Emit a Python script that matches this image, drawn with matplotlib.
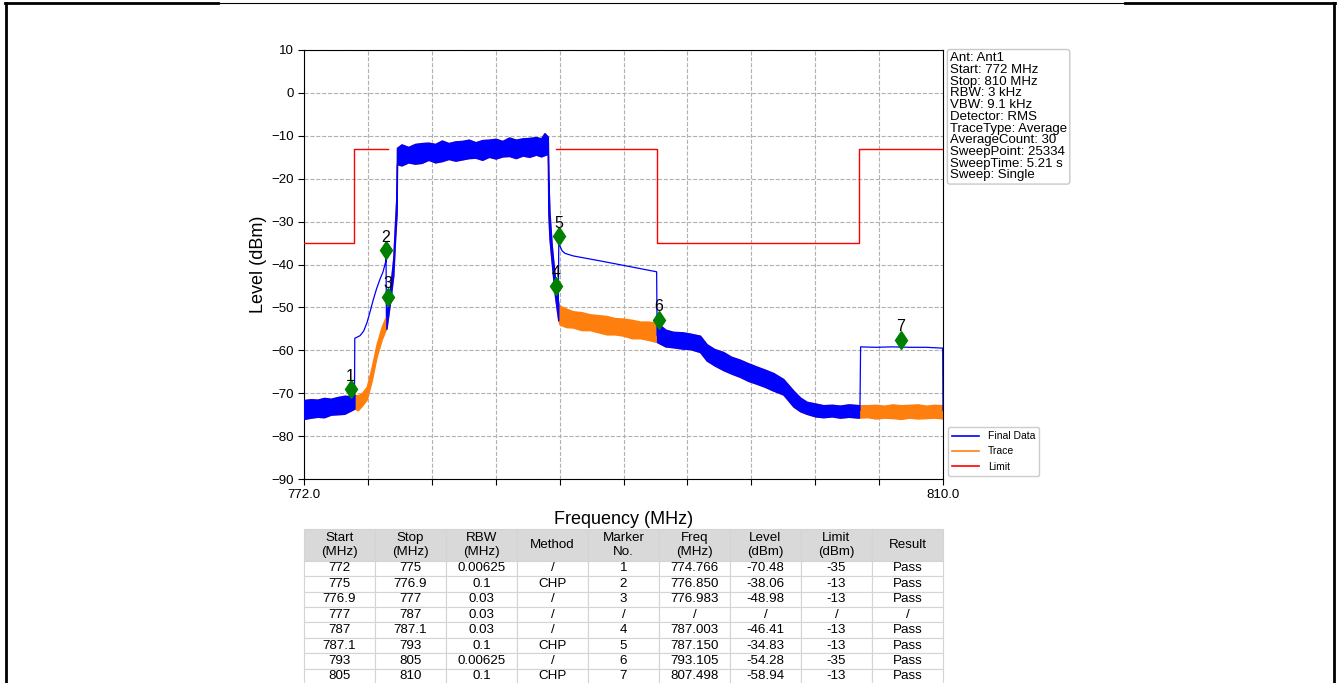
import numpy as np
import matplotlib
matplotlib.use("Agg")
import matplotlib.pyplot as plt
from matplotlib.lines import Line2D

plt.rcParams["font.family"] = ["Liberation Sans", "DejaVu Sans"]

# ---- measured trace envelope (MHz, dBm), one row per region ----
trace_freq = [772.0, 772.4, 772.8, 773.2, 773.6, 774.0, 774.4, 774.8, 775.0, 775.2,
              775.43, 775.73, 776.03, 776.32, 776.62, 776.88,
              776.9, 777.11, 777.31, 777.41, 777.51,
              777.53, 777.8, 778.2, 778.6, 779.0, 779.4, 779.8, 780.2, 780.6, 781.0, 781.4, 781.8,
              782.2, 782.6, 783.0, 783.4, 783.8, 784.2, 784.6, 785.0, 785.4, 785.8, 786.1, 786.3, 786.5,
              786.53, 786.6, 786.73, 786.93,
              787.12, 787.2, 787.6, 788.0, 788.5, 789.0, 789.5, 790.0, 790.5, 791.0, 791.5, 792.0, 792.5, 793.0,
              793.5, 793.96, 794.5, 794.95, 795.55, 795.95, 796.4, 796.93, 797.4, 797.93, 798.4, 798.92,
              799.4, 799.91, 800.5, 801.1, 801.5, 801.89, 802.4, 802.88, 803.4, 803.87, 804.4, 805.0,
              805.5, 806.0, 806.5, 807.0, 807.5, 808.0, 808.5, 809.0, 809.5, 810.0]
trace_hi = [-71.6, -71.4, -71.5, -71.1, -71.3, -70.9, -70.6, -70.7, -70.3, -70.5,
            -70.0, -68.5, -63.8, -58.5, -54.5, -52.0,
            -51.5, -46.0, -38.5, -30.5, -23.0,
            -12.8, -12.0, -12.6, -11.9, -11.7, -11.6, -11.9, -11.1, -11.7, -11.3, -11.2, -10.9,
            -11.5, -11.0, -10.9, -10.7, -11.2, -10.4, -10.9, -10.6, -10.5, -10.3, -10.6, -9.4, -10.2,
            -20.0, -28.0, -35.5, -43.5,
            -49.0, -49.6, -50.3, -50.9, -51.1, -51.6, -51.8, -52.0, -52.5, -52.6, -52.9, -53.3, -53.3, -53.6,
            -55.2, -55.7, -55.8, -56.1, -56.6, -58.6, -59.7, -60.4, -61.5, -62.2, -63.0, -63.8,
            -64.5, -65.3, -66.7, -69.4, -71.0, -72.0, -72.4, -72.8, -72.7, -72.9, -72.6, -72.8,
            -72.8, -72.7, -72.9, -72.6, -72.8, -72.7, -72.6, -72.9, -72.7, -72.8]
trace_lo = [-76.0, -75.7, -75.5, -75.6, -75.0, -74.9, -74.8, -74.0, -73.6, -74.0,
            -73.0, -71.5, -67.0, -61.5, -57.5, -55.0,
            -55.0, -49.0, -42.5, -34.5, -28.0,
            -16.6, -16.9, -16.2, -16.5, -16.3, -15.6, -16.2, -15.9, -15.4, -15.8, -15.5, -15.2,
            -15.1, -15.6, -14.9, -15.3, -14.8, -14.7, -15.2, -14.6, -14.9, -14.4, -14.8, -14.5, -14.2,
            -28.0, -34.0, -39.5, -47.5,
            -53.0, -54.0, -54.6, -54.7, -55.3, -55.3, -55.8, -56.3, -56.3, -56.6, -57.2, -57.2, -57.6, -58.1,
            -59.1, -59.3, -59.6, -59.7, -60.4, -62.4, -63.5, -64.6, -65.4, -66.2, -67.1, -67.8,
            -68.5, -69.4, -70.3, -73.1, -74.2, -74.8, -75.4, -75.6, -75.4, -75.7, -75.5, -75.7,
            -75.6, -75.9, -75.7, -75.8, -76.0, -75.7, -75.9, -75.8, -75.7, -75.9]

# ---- final data in the CHP segments (smooth channel power curve) ----
chp1_freq = [775.0, 775.02, 775.33, 775.55, 775.75, 775.93, 776.12, 776.32, 776.52, 776.7, 776.85, 776.88, 776.9]
chp1_level = [-72.0, -57.2, -56.6, -55.5, -53.5, -51.0, -48.2, -45.6, -43.4, -41.7, -39.5, -38.5, -52.0]
chp2_freq = [787.12, 787.15, 787.35, 787.52, 788.01, 789.8, 791.39, 792.97, 793.0]
chp2_level = [-51.0, -35.1, -36.8, -37.4, -38.0, -39.3, -40.5, -41.7, -56.5]
chp3_freq = [805.06, 805.1, 806.0, 807.0, 808.0, 809.0, 809.98, 810.0]
chp3_level = [-74.0, -59.2, -59.3, -59.2, -59.3, -59.3, -59.5, -74.0]

# segments where final data equals the trace
plain_segments = [(772.0, 775.0), (776.9, 787.12), (793.0, 805.0)]

# ---- limit line ----
limit_freq = [772.0, 775.0, 775.0, 777.0, np.nan, 787.0, 793.0, 793.0, 805.0, 805.0, 810.0]
limit_level = [-35, -35, -13, -13, np.nan, -13, -13, -35, -35, -13, -13]

# ---- result table ----
seg_start = ["772", "775", "776.9", "777", "787", "787.1", "793", "805"]
seg_stop = ["775", "776.9", "777", "787", "787.1", "793", "805", "810"]
seg_rbw = ["0.00625", "0.1", "0.03", "0.03", "0.03", "0.1", "0.00625", "0.1"]
seg_method = ["/", "CHP", "/", "/", "/", "CHP", "/", "CHP"]
marker_no = ["1", "2", "3", "/", "4", "5", "6", "7"]
marker_freq = ["774.766", "776.850", "776.983", "/", "787.003", "787.150", "793.105", "807.498"]
marker_level = ["-70.48", "-38.06", "-48.98", "/", "-46.41", "-34.83", "-54.28", "-58.94"]
seg_limit = ["-35", "-13", "-13", "/", "-13", "-13", "-35", "-13"]
seg_result = ["Pass", "Pass", "Pass", "/", "Pass", "Pass", "Pass", "Pass"]
col_labels = ["Start\n(MHz)", "Stop\n(MHz)", "RBW\n(MHz)", "Method", "Marker\nNo.",
              "Freq\n(MHz)", "Level\n(dBm)", "Limit\n(dBm)", "Result"]

info_lines = ["Ant: Ant1", "Start: 772 MHz", "Stop: 810 MHz", "RBW: 3 kHz", "VBW: 9.1 kHz",
              "Detector: RMS", "TraceType: Average", "AverageCount: 30", "SweepPoint: 25334",
              "SweepTime: 5.21 s", "Sweep: Single"]

MARKER_LIFT = 1.4  # diamonds sit slightly above the reported level

fig = plt.figure(figsize=(13.38, 6.83), dpi=100)
ax = fig.add_axes([304 / 1338, 1 - 479 / 683, 639 / 1338, 429 / 683])

tf = np.array(trace_freq)
th = np.array(trace_hi)
tl = np.array(trace_lo)

# orange raw trace under everything
ax.fill_between(tf, tl, th, color="#ff7f0e", lw=1.0, zorder=2)

# blue final data where it equals the trace
for a, b in plain_segments:
    m = (tf >= a - 1e-9) & (tf <= b + 1e-9)
    ax.fill_between(tf[m], tl[m], th[m], color="blue", lw=1.0, zorder=3)
for f, l in [(chp1_freq, chp1_level), (chp2_freq, chp2_level), (chp3_freq, chp3_level)]:
    ax.plot(f, l, color="blue", lw=0.9, zorder=3)

ax.plot(limit_freq, limit_level, color="red", lw=1.0, zorder=4)

# markers
for no, fr, lv in zip(marker_no, marker_freq, marker_level):
    if no == "/":
        continue
    x, y = float(fr), float(lv) + MARKER_LIFT
    ax.plot(x, y, marker="d", color="green", markersize=9.5, zorder=5)
    ax.annotate(no, (x, y), xytext=(0, 4), textcoords="offset points",
                ha="center", va="bottom", fontsize=11.5, zorder=6)

ax.set_xlim(772, 810)
ax.set_ylim(-90, 10)
xt = np.linspace(772, 810, 11)
ax.set_xticks(xt)
ax.set_xticklabels(["772.0"] + [""] * 9 + ["810.0"])
ax.set_yticks(np.arange(-90, 11, 10))
ax.tick_params(labelsize=9.5, length=4)
ax.grid(True, color="#b0b0b0", linestyle="--", linewidth=0.8)
ax.set_axisbelow(True)
ax.set_xlabel("Frequency (MHz)", fontsize=13, labelpad=7)
ax.set_ylabel("Level (dBm)", fontsize=13, labelpad=3)

handles = [Line2D([], [], color="blue", lw=1.2, label="Final Data"),
           Line2D([], [], color="#ff7f0e", lw=1.2, label="Trace"),
           Line2D([], [], color="red", lw=1.2, label="Limit")]
ax.legend(handles=handles, loc="lower left", bbox_to_anchor=(1.003, 0.0),
          fontsize=7.5, handlelength=2.6, borderaxespad=0.3, framealpha=1)

ax.text(1.011, 0.995, "\n".join(info_lines), transform=ax.transAxes, va="top", ha="left",
        fontsize=9.5, linespacing=0.97,
        bbox=dict(boxstyle="round,pad=0.2", fc="white", ec="#c8c8c8"))

cells = list(zip(seg_start, seg_stop, seg_rbw, seg_method, marker_no,
                 marker_freq, marker_level, seg_limit, seg_result))
tbl = ax.table(cellText=cells, colLabels=col_labels, cellLoc="center",
               bbox=[0.0, -0.478, 1.0, 0.361])
tbl.auto_set_font_size(False)
tbl.set_fontsize(9.6)
for (r, c), cell in tbl.get_celld().items():
    cell.set_edgecolor("#d4d4d4")
    cell.set_linewidth(0.8)
    cell.PAD = 0.02
    if r == 0:
        cell.set_facecolor("#d9d9d9")
        cell.set_height(2.05)
    else:
        cell.set_height(1.0)

# page frame around the chart image
tr = fig.transFigure
W, H = 1338.0, 683.0
fig.add_artist(Line2D([6 / W, 6 / W], [0, 1 - 3 / H], transform=tr, color="black", lw=2.0))
fig.add_artist(Line2D([1334 / W, 1334 / W], [0, 1 - 3 / H], transform=tr, color="black", lw=2.0))
fig.add_artist(Line2D([5 / W, 218 / W], [1 - 3 / H] * 2, transform=tr, color="black", lw=2.0))
fig.add_artist(Line2D([218 / W, 1125 / W], [1 - 3 / H] * 2, transform=tr, color="black", lw=0.8))
fig.add_artist(Line2D([1125 / W, 1335 / W], [1 - 3 / H] * 2, transform=tr, color="black", lw=2.0))

fig.savefig("out.png", dpi=100)
